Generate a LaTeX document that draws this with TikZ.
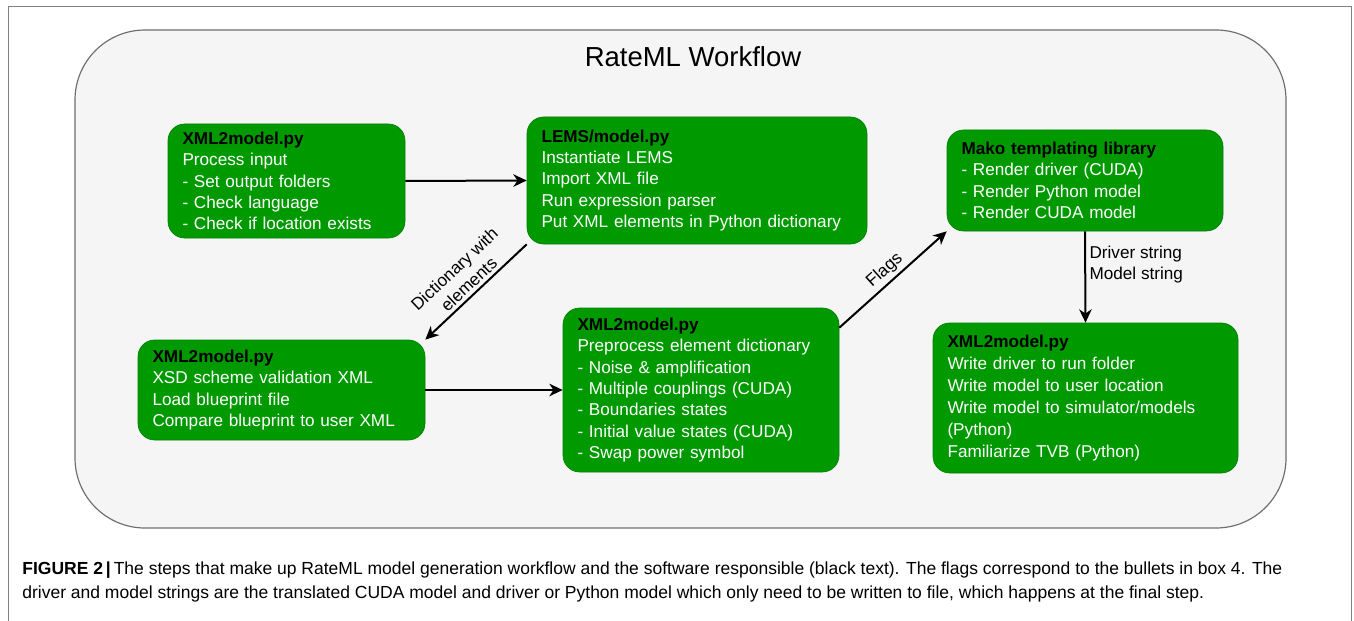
\documentclass[tikz,border=0pt]{standalone}
\usepackage{fontspec}
\setmainfont{Liberation Sans}
\usepackage{xcolor}
\usetikzlibrary{calc}
\usetikzlibrary{arrows.meta}
\definecolor{boxgreen}{RGB}{0,153,0}
\definecolor{boxline}{RGB}{0,128,0}
\definecolor{panel}{RGB}{245,245,245}
\definecolor{panelline}{RGB}{110,110,110}
\definecolor{frameline}{RGB}{128,128,128}
\newcommand{\hdr}[1]{{\color{black}\bfseries #1}}

\begin{document}
\begin{tikzpicture}[
	x=0.6pt, y=-0.6pt,
	stage/.style = {rectangle, rounded corners=10pt, draw=boxline, fill=boxgreen, text=white, align=left, inner xsep=8.7pt, inner ysep=0pt, font=\fontsize{10.3}{12.8}\selectfont},
	lbl/.style = {font=\fontsize{10.3}{12.6}\selectfont, align=center, inner sep=2pt},
	r/.style = {-{Stealth[length=8pt, width=7.5pt, inset=2.5pt]}, line width=1.2pt}
	]
	\useasboundingbox (0,0) rectangle (1354,621);
	
	% === === Frame and panel === ===
	\draw[frameline, line width=0.6pt] (8,621) -- (8,7) -- (1351,7) -- (1351,621);
	\draw[panelline, fill=panel, line width=0.7pt, rounded corners=42pt] (75,30) rectangle (1286,528);
	\node	(title)	at	(693, 57)	{\fontsize{16.5}{20}\selectfont RateML Workflow};
	
	% === === Nodes === ===
	\node[stage, text width=124.8pt, minimum height=68.4pt]	(b1)	at	(286.5, 181)	{\hdr{XML2model.py}\\Process input\\- Set output folders\\- Check language\\- Check if location exists};
	\node[stage, text width=186.6pt, minimum height=76.2pt]	(b2)	at	(697, 180.5)	{\hdr{LEMS/model.py}\\Instantiate LEMS\\Import XML file\\Run expression parser\\Put XML elements in Python dictionary};
	\node[stage, text width=148.2pt, minimum height=60.6pt]	(b3)	at	(1085, 180.5)	{\hdr{Mako templating library}\\- Render driver (CUDA)\\- Render Python model\\- Render CUDA model};
	
	\node[stage, text width=154.8pt, minimum height=60pt]	(b4)	at	(281.5, 390)	{\hdr{XML2model.py}\\XSD scheme validation XML\\Load blueprint file\\Compare blueprint to user XML};
	\node[stage, text width=148.2pt, minimum height=98.4pt]	(b5)	at	(701, 390)	{\hdr{XML2model.py}\\Preprocess element dictionary\\- Noise \& amplification\\- Multiple couplings (CUDA)\\- Boundaries states\\- Initial value states (CUDA)\\- Swap power symbol};
	\node[stage, text width=165.6pt, minimum height=90pt, font=\fontsize{10.3}{13.2}\selectfont]	(b6)	at	(1085.5, 398)	{\hdr{XML2model.py}\\Write driver to run folder\\Write model to user location\\Write model to simulator/models\\(Python)\\Familiarize TVB (Python)};
	
	% === === Lines === ===
	\draw[r]	(b1.east)	--	(b2.west);
	\draw[r]	(b2.south west)	--	node[lbl, sloped, above]	{Dictionary with\\elements}	(b4.north east);
	\draw[r]	(b4.east)	--	(b5.west);
	\draw[r]	($(b5.north east)+(0,20)$)	--	node[lbl, sloped, above]	{Flags}	(b3.south west);
	\draw[r]	(b3.south)	--	node[lbl, right, pos=0.36, align=left]	{Driver string\\Model string}	(b6.north);
	
	% === === Caption === ===
	\node[anchor=north west, align=left, inner sep=0pt, font=\fontsize{10.5}{14.4}\selectfont]	(caption)	at	(22, 561)
		{\textbf{FIGURE 2\,|}\,The steps that make up RateML model generation workflow and the software responsible (black text). The flags correspond to the bullets in box 4. The\\
		driver and model strings are the translated CUDA model and driver or Python model which only need to be written to file, which happens at the final step.};
	
\end{tikzpicture}
\end{document}
